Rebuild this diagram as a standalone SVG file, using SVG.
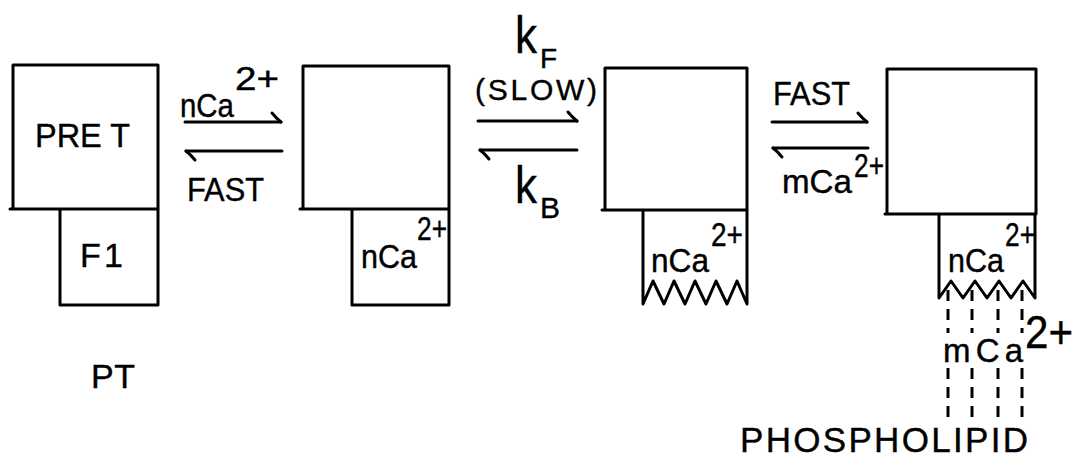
<svg xmlns="http://www.w3.org/2000/svg" width="1081" height="461" viewBox="0 0 1081 461">
<style>
.ln{fill:none;stroke:#000;stroke-width:3;stroke-linecap:round;stroke-linejoin:round}
.ds{fill:none;stroke:#000;stroke-width:3;stroke-dasharray:11 8}
text{font-family:"Liberation Sans",Arial,sans-serif;fill:#000;stroke:#000;stroke-width:0.4}
.t{font-size:34px}
.s{font-size:33px}
.p{font-size:33px}
.k{font-size:52px}
</style>
<defs>
<marker id="barb" markerUnits="userSpaceOnUse" markerWidth="20" markerHeight="20" viewBox="-15 -15 20 20" refX="0" refY="0" orient="auto" overflow="visible">
<path d="M0,0 Q-4,-3 -9,-9" fill="none" stroke="#000" stroke-width="3" stroke-linecap="round"/>
</marker>
</defs>
<rect width="1081" height="461" fill="#fff" stroke="none"/>

<g id="state1">
<path class="ln" d="M13,209 V65 H158 V209 M10,209 H158 M60,209 V305 H158 V209"/>
<text class="t" x="35" y="147" textLength="95" lengthAdjust="spacingAndGlyphs">PRE T</text>
<text class="t" x="80" y="267" textLength="43">F1</text>
<text class="t" x="91" y="388" textLength="44">PT</text>
</g>

<g id="state2">
<path class="ln" d="M303,209 V66 H449 V209 M300,209 H449 M352,209 V305 H449 V209"/>
<text class="s" x="361" y="268" textLength="56" lengthAdjust="spacingAndGlyphs">nCa</text>
<text class="p" x="417" y="240" textLength="30" lengthAdjust="spacingAndGlyphs">2+</text>
</g>

<g id="state3">
<path class="ln" d="M605,210 V68 H747 V210 M602,210 H747 M643,210 V304 L653,281 L664,304 L674,281 L685,304 L695,281 L706,304 L716,281 L727,304 L737,281 L747,304 V210"/>
<text class="s" x="651" y="272" textLength="58" lengthAdjust="spacingAndGlyphs">nCa</text>
<text class="p" x="711" y="246" textLength="32" lengthAdjust="spacingAndGlyphs">2+</text>
</g>

<g id="state4">
<path class="ln" d="M887,214 V69 H1036 V214 M885,214 H1036 M939,214 V298 L951,281 L963,298 L975,281 L987,298 L999,281 L1011,298 L1023,281 L1035,298 V214"/>
<text class="s" x="948" y="272" textLength="56" lengthAdjust="spacingAndGlyphs">nCa</text>
<text class="p" x="1005" y="246" textLength="30" lengthAdjust="spacingAndGlyphs">2+</text>
</g>

<g id="phospholipid">
<path class="ds" d="M948,290 V333 M972,290 V333 M998,290 V333 M1022,290 V333 M948,368 V418 M972,368 V418 M998,368 V418 M1022,368 V418"/>
<text class="s" x="943" y="362" textLength="80">mCa</text>
<text style="font-size:46px" x="1025" y="348" textLength="48" lengthAdjust="spacingAndGlyphs">2+</text>
<text style="font-size:35px" x="740" y="452" textLength="288">PHOSPHOLIPID</text>
</g>

<g id="connectors">
<path class="ln" d="M185,122 H281" marker-end="url(#barb)"/>
<path class="ln" d="M282,151 H186" marker-end="url(#barb)"/>
<path class="ln" d="M478,121 H577" marker-end="url(#barb)"/>
<path class="ln" d="M577,150 H480" marker-end="url(#barb)"/>
<path class="ln" d="M772,122 H867" marker-end="url(#barb)"/>
<path class="ln" d="M868,148 H773" marker-end="url(#barb)"/>
<text class="s" x="180" y="117" textLength="54" lengthAdjust="spacingAndGlyphs">nCa</text>
<text class="p" x="235" y="90" textLength="44" lengthAdjust="spacingAndGlyphs">2+</text>
<text class="t" x="187" y="201" textLength="77" lengthAdjust="spacingAndGlyphs">FAST</text>
<text class="k" x="515" y="53" textLength="22" lengthAdjust="spacingAndGlyphs">k</text>
<text style="font-size:28px" x="540" y="68">F</text>
<text style="font-size:30px" x="475" y="100" textLength="122">(SLOW)</text>
<text class="k" x="515" y="203" textLength="22" lengthAdjust="spacingAndGlyphs">k</text>
<text style="font-size:30px" x="540" y="218">B</text>
<text class="t" x="773" y="105" textLength="77" lengthAdjust="spacingAndGlyphs">FAST</text>
<text class="s" x="782" y="193" textLength="70" lengthAdjust="spacingAndGlyphs">mCa</text>
<text class="p" x="854" y="177" textLength="30" lengthAdjust="spacingAndGlyphs">2+</text>
</g>
</svg>
